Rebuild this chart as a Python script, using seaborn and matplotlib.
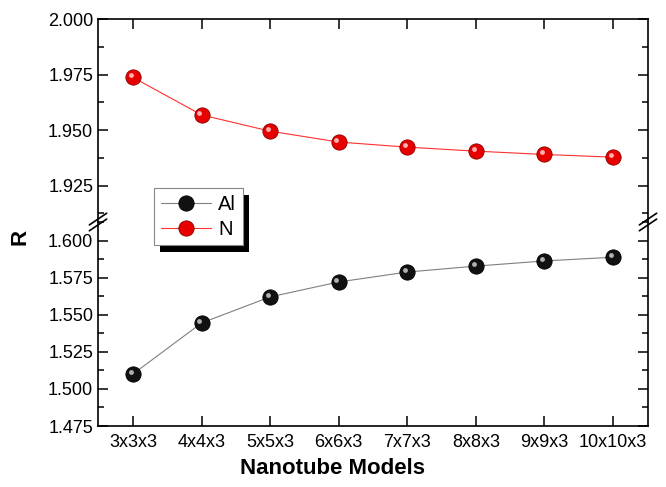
import numpy as np
import pandas as pd
import matplotlib
matplotlib.use("Agg")
import matplotlib.pyplot as plt
import seaborn as sns
from matplotlib.lines import Line2D
from matplotlib.patches import Rectangle
from matplotlib.ticker import MultipleLocator, FixedLocator
from matplotlib.transforms import offset_copy

models = ["3x3x3", "4x4x3", "5x5x3", "6x6x3", "7x7x3", "8x8x3", "9x9x3", "10x10x3"]
al_values = [1.5101, 1.5446, 1.5622, 1.5723, 1.5790, 1.5830, 1.5865, 1.5890]
n_values = [1.9737, 1.9568, 1.9495, 1.9446, 1.9423, 1.9405, 1.9390, 1.9378]
upper_ticks = [1.925, 1.950, 1.975, 2.000]
lower_ticks = [1.475, 1.500, 1.525, 1.550, 1.575, 1.600]

sns.set_style("ticks")
plt.rcParams['font.family'] = ['Liberation Sans', 'DejaVu Sans']
plt.rcParams['text.color'] = 'black'
plt.rcParams['xtick.color'] = 'black'
plt.rcParams['ytick.color'] = 'black'
plt.rcParams['axes.labelcolor'] = 'black'

df_al = pd.DataFrame({"Model": models, "R": al_values})
df_n = pd.DataFrame({"Model": models, "R": n_values})

fig = plt.figure(figsize=(6.66, 4.87), dpi=100)
L, R_, T, B = 98/666, 648/666, 1-19/487, 1-426/487
brk = 1-222/487
ax_top = fig.add_axes([L, brk, R_-L, T-brk])
ax_bot = fig.add_axes([L, B, R_-L, brk-B])

sns.lineplot(data=df_n, x="Model", y="R", ax=ax_top, color="#ff3030", lw=0.8,
             marker="o", markersize=11, markerfacecolor="#e80000",
             markeredgecolor="#8a0000", markeredgewidth=0.6, sort=False, label="N")
sns.lineplot(data=df_al, x="Model", y="R", ax=ax_bot, color="#808080", lw=0.8,
             marker="o", markersize=11, markerfacecolor="#111111",
             markeredgecolor="#000000", markeredgewidth=0.6, sort=False, label="Al")

# glossy highlights on the spheres
for ax, vals, hc in ((ax_top, n_values, "#ffb0b0"), (ax_bot, al_values, "#b0b0b0")):
    tr = offset_copy(ax.transData, fig=fig, x=-1.6, y=1.6, units="points")
    ax.plot(range(len(models)), vals, ls="none", marker="o", markersize=3.5,
            markerfacecolor=hc, markeredgecolor="none", transform=tr, zorder=5)

for ax in (ax_top, ax_bot):
    ax.set_xlim(-0.51, 7.51)
    ax.set_xlabel("")
    ax.set_ylabel("")
    if ax.get_legend():
        ax.get_legend().remove()
    for s in ax.spines.values():
        s.set_linewidth(1.2)
        s.set_color("black")
    ax.tick_params(axis="both", which="both", direction="in", top=True, right=True,
                   width=1.1, colors="black", labelcolor="black", labelsize=13)
    ax.tick_params(which="major", length=7)
    ax.tick_params(which="minor", length=4)

ax_top.set_ylim(1.9086, 2.0)
ax_top.yaxis.set_major_locator(FixedLocator(upper_ticks))
ax_top.yaxis.set_minor_locator(MultipleLocator(0.0125))
ax_top.set_yticklabels([f"{v:.3f}" for v in upper_ticks])
ax_top.spines["bottom"].set_visible(False)
ax_top.tick_params(axis="x", bottom=False, labelbottom=False)
ax_top.set_xticks(range(len(models)))

ax_bot.set_ylim(1.475, 1.6128)
ax_bot.yaxis.set_major_locator(FixedLocator(lower_ticks))
ax_bot.yaxis.set_minor_locator(MultipleLocator(0.0125))
ax_bot.set_yticklabels([f"{v:.3f}" for v in lower_ticks])
ax_bot.spines["top"].set_visible(False)
ax_bot.tick_params(axis="x", top=False)
ax_bot.set_xticks(range(len(models)))
ax_bot.set_xticklabels(models)
ax_bot.tick_params(axis="x", pad=6)

# break marks
for xf in (L, R_):
    for dy in (-0.006, 0.006):
        fig.add_artist(Line2D([xf - 0.013, xf + 0.013], [brk + dy - 0.012, brk + dy + 0.012],
                              transform=fig.transFigure, color="black", lw=1.2))

fig.text(0.5, 1-468/487, "Nanotube Models", ha="center", va="center",
         fontsize=16, fontweight="bold", color="black")
fig.text(20/666, 1-237/487, "R", ha="center", va="center", rotation=90,
         fontsize=16, fontweight="bold", color="black")

handles = [ax_bot.get_lines()[0], ax_top.get_lines()[0]]
leg = fig.legend(handles, ["Al", "N"], loc="upper left",
                 bbox_to_anchor=(154/666, 1-188/487), bbox_transform=fig.transFigure,
                 borderaxespad=0, fontsize=14.5, frameon=True, fancybox=False,
                 handlelength=2.5, handletextpad=0.35, borderpad=0.33,
                 labelspacing=0.3, framealpha=1)
leg.get_frame().set_edgecolor("#888888")
leg.get_frame().set_linewidth(0.8)
for t in leg.get_texts():
    t.set_color("black")
leg.set_zorder(10)

fig.canvas.draw()
bb = leg.get_window_extent().transformed(fig.transFigure.inverted())
off_x, off_y = 6/666, 7/487
shadow = Rectangle((bb.x0 + off_x, bb.y0 - off_y), bb.width, bb.height,
                   transform=fig.transFigure, facecolor="black", edgecolor="none", zorder=9)
fig.add_artist(shadow)

fig.savefig("out.png", dpi=100)
